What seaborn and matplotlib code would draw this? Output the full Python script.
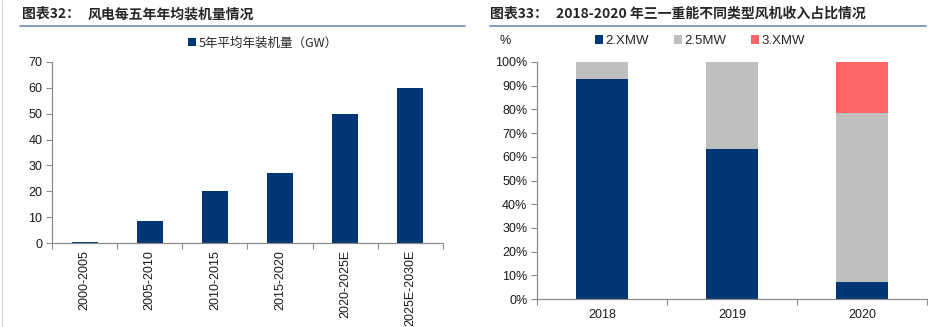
import matplotlib
matplotlib.use("Agg")
import matplotlib.pyplot as plt
import seaborn as sns
import pandas as pd
import numpy as np
from matplotlib.patches import Patch
from matplotlib.lines import Line2D

sns.set_theme(style="white")
plt.rcParams['font.family'] = ['Liberation Sans', 'Noto Sans CJK SC', 'DejaVu Sans']

# ---- data ----
periods = ["2000-2005", "2005-2010", "2010-2015", "2015-2020", "2020-2025E", "2025E-2030E"]
avg_install = [0.3, 8.7, 20.1, 27.2, 50.0, 60.0]
left_series = "5年平均年装机量（GW）"
left_yticks = [0, 10, 20, 30, 40, 50, 60, 70]

years = ["2018", "2019", "2020"]
share_2x = [93.0, 63.3, 7.0]
share_25 = [7.0, 36.7, 71.5]
share_3x = [0.0, 0.0, 21.5]
series_names = ["2.XMW", "2.5MW", "3.XMW"]
right_yticks = [0, 10, 20, 30, 40, 50, 60, 70, 80, 90, 100]

title_left = ("图表32：", "风电每五年年均装机量情况")
title_right = ("图表33：", "2018-2020 年三一重能不同类型风机收入占比情况")

NAVY = "#003675"
GRAY = "#BFBFBF"
RED = "#FF6565"
SPINE = "#8C8C8C"
LINE = "#6B8EBF"

W, H = 929, 327
fig = plt.figure(figsize=(W / 100, H / 100), dpi=100)

def fx(px):
    return px / W

def fy(py):
    return 1 - py / H

cjk = ['Noto Sans CJK SC', 'Liberation Sans']
latin = ['Liberation Sans', 'Noto Sans CJK SC']

# titles
fig.text(fx(22), fy(14), title_left[0], fontsize=10, fontweight='bold', family=cjk, va='center', ha='left')
fig.text(fx(88), fy(14), title_left[1], fontsize=10, fontweight='bold', family=cjk, va='center', ha='left')
fig.text(fx(490), fy(14), title_right[0], fontsize=10, fontweight='bold', family=cjk, va='center', ha='left')
fig.text(fx(556), fy(14), title_right[1], fontsize=10, fontweight='bold', family=cjk, va='center', ha='left')
fig.add_artist(Line2D([fx(20), fx(465)], [fy(26), fy(26)], color=LINE, lw=1.2))
fig.add_artist(Line2D([fx(490), fx(926)], [fy(26), fy(26)], color=LINE, lw=1.2))
fig.add_artist(Line2D([fx(2), fx(2)], [fy(0), fy(327)], color="#D9D9D9", lw=0.8))

def style_axes(ax):
    sns.despine(ax=ax)
    for s in ["left", "bottom"]:
        ax.spines[s].set_color(SPINE)
        ax.spines[s].set_linewidth(0.9)
    ax.tick_params(axis='y', which='major', direction='out', length=4, width=0.8, color=SPINE,
                   left=True, labelsize=9, pad=3, labelcolor="#1a1a1a")
    ax.tick_params(axis='x', which='major', length=0, labelsize=9, labelcolor="#1a1a1a")
    ax.tick_params(axis='x', which='minor', direction='out', length=4, width=0.8, color=SPINE, bottom=True)
    ax.set_xlabel("")
    ax.set_ylabel("")

bar_kw = dict(saturation=1, width=0.4, linewidth=0, edgecolor='none')

# ---- left chart ----
axL = fig.add_axes([fx(52), fy(243), fx(443 - 52), (243 - 62) / H])
dfL = pd.DataFrame({"period": periods, "value": avg_install})
sns.barplot(data=dfL, x="period", y="value", color=NAVY, ax=axL, **bar_kw)
axL.set_ylim(0, 70)
axL.set_yticks(left_yticks)
axL.set_xlim(-0.5, len(periods) - 0.5)
axL.set_xticks(np.arange(len(periods) + 1) - 0.5, minor=True)
style_axes(axL)
axL.set_xticklabels(periods, rotation=90)
axL.tick_params(axis='x', pad=5)
fig.legend(handles=[Patch(facecolor=NAVY, edgecolor='none')], labels=[left_series],
           loc='center', bbox_to_anchor=(fx(263), fy(43)), frameon=False,
           handlelength=0.6, handleheight=0.6, handletextpad=0.2,
           prop={'family': cjk, 'size': 9})

# ---- right chart ----
axR = fig.add_axes([fx(537), fy(299), fx(927 - 537), (299 - 62) / H])
dfR = pd.DataFrame({"year": years, "a": share_2x, "b": share_25, "c": share_3x})
dfR["cum_b"] = dfR["a"] + dfR["b"]
dfR["cum_c"] = dfR["cum_b"] + dfR["c"]
sns.barplot(data=dfR, x="year", y="cum_c", color=RED, ax=axR, **bar_kw)
sns.barplot(data=dfR, x="year", y="cum_b", color=GRAY, ax=axR, **bar_kw)
sns.barplot(data=dfR, x="year", y="a", color=NAVY, ax=axR, **bar_kw)
axR.set_ylim(0, 100)
axR.set_yticks(right_yticks)
axR.set_yticklabels([f"{v}%" for v in right_yticks])
axR.set_xlim(-0.5, len(years) - 0.5)
axR.set_xticks(np.arange(len(years) + 1) - 0.5, minor=True)
style_axes(axR)
axR.tick_params(axis='x', pad=7)

fig.text(fx(500), fy(41), "%", fontsize=9, va='center', ha='left', color="#1a1a1a")
handles = [Patch(facecolor=c, edgecolor='none') for c in (NAVY, GRAY, RED)]
fig.legend(handles=handles, labels=series_names, loc='center',
           bbox_to_anchor=(fx(700), fy(41)), ncol=3, frameon=False,
           handlelength=0.6, handleheight=0.6, handletextpad=0.2, columnspacing=1.9,
           prop={'family': latin, 'size': 9.5})

fig.savefig("out.png", dpi=100)
